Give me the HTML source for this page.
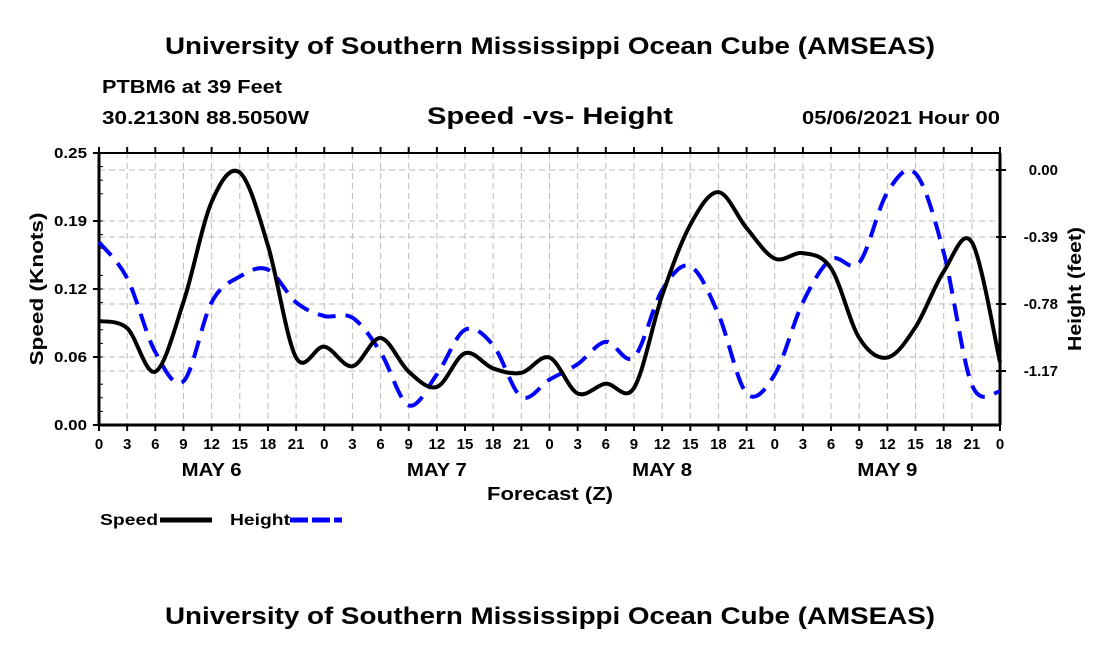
<!DOCTYPE html>
<html><head><meta charset="utf-8"><style>
body{margin:0;background:#fff}
svg text{font-family:"Liberation Sans",sans-serif;font-weight:bold;fill:#000}
</style></head><body>
<svg id="c" width="1100" height="650" xmlns="http://www.w3.org/2000/svg">
<text x="165" y="54" font-size="24" textLength="770" lengthAdjust="spacingAndGlyphs">University of Southern Mississippi Ocean Cube (AMSEAS)</text>
<text x="102" y="93" font-size="18" textLength="180" lengthAdjust="spacingAndGlyphs">PTBM6 at 39 Feet</text>
<text x="102" y="124" font-size="18" textLength="207" lengthAdjust="spacingAndGlyphs">30.2130N  88.5050W</text>
<text x="427" y="124" font-size="24" textLength="246" lengthAdjust="spacingAndGlyphs">Speed -vs- Height</text>
<text x="802" y="124" font-size="18" textLength="198" lengthAdjust="spacingAndGlyphs">05/06/2021 Hour 00</text>
<g id="grid"></g>
<g id="axes"></g>
<g id="series"></g>
<text x="487" y="500" font-size="18" textLength="126" lengthAdjust="spacingAndGlyphs">Forecast (Z)</text>
<text transform="translate(43,289) rotate(-90)" font-size="18" text-anchor="middle" textLength="153" lengthAdjust="spacingAndGlyphs">Speed (Knots)</text>
<text transform="translate(1081,289) rotate(-90)" font-size="18" text-anchor="middle" textLength="124" lengthAdjust="spacingAndGlyphs">Height (feet)</text>
<g>
<text x="100" y="525" font-size="16" textLength="58" lengthAdjust="spacingAndGlyphs">Speed</text>
<line x1="160" y1="520" x2="212" y2="520" stroke="#000" stroke-width="5"/>
<text x="230" y="525" font-size="16" textLength="60" lengthAdjust="spacingAndGlyphs">Height</text>
<line x1="290" y1="520" x2="342" y2="520" stroke="#0000ff" stroke-width="5" stroke-dasharray="18,4"/>
</g>
<text x="165" y="624" font-size="24" textLength="770" lengthAdjust="spacingAndGlyphs">University of Southern Mississippi Ocean Cube (AMSEAS)</text>
</svg>
<script>
const hours=[0,3,6,9,12,15,18,21,24,27,30,33,36,39,42,45,48,51,54,57,60,63,66,69,72,75,78,81,84,87,90,93,96];
const speed=[0.0956,0.089,0.049,0.113,0.205,0.232,0.165,0.062,0.072,0.054,0.080,0.049,0.035,0.066,0.052,0.048,0.062,0.029,0.038,0.034,0.119,0.184,0.214,0.181,0.153,0.158,0.144,0.080,0.062,0.090,0.141,0.168,0.058];
const height=[-0.42,-0.63,-1.06,-1.23,-0.77,-0.62,-0.58,-0.77,-0.85,-0.86,-1.06,-1.37,-1.19,-0.93,-1.02,-1.32,-1.22,-1.13,-1.00,-1.09,-0.70,-0.56,-0.84,-1.30,-1.19,-0.77,-0.52,-0.54,-0.13,-0.02,-0.48,-1.25,-1.29];
const leftTicks=[0,0.0625,0.125,0.1875,0.25];
const leftTickLabels=["0.00","0.06","0.12","0.19","0.25"];
const rightTicks=[0,-0.39,-0.78,-1.17];
const rightTickLabels=["0.00","-0.39","-0.78","-1.17"];
const xTickLabels=["0","3","6","9","12","15","18","21"];
const dayLabels=["MAY 6","MAY 7","MAY 8","MAY 9"];
const dayHours=[12,36,60,84];

const L=99,R=1000,T=153,B=425;
const X=h=>L+(h/96)*(R-L);
const YS=v=>B-(v/0.25)*(B-T);
const YH=v=>170+(v/-1.17)*(371-170);
const NS="http://www.w3.org/2000/svg";
function mk(tag,attrs,parent,txt){const e=document.createElementNS(NS,tag);for(const k in attrs)e.setAttribute(k,attrs[k]);if(txt!==undefined)e.textContent=txt;parent.appendChild(e);return e;}
const grid=document.getElementById('grid'),axes=document.getElementById('axes'),ser=document.getElementById('series');
hours.forEach((h,i)=>{if(i>0&&i<hours.length-1){const g=mk('line',{x1:X(h),x2:X(h),y1:T,y2:B,stroke:'#bbb','stroke-dasharray':'6,4'},grid);

}});
leftTicks.forEach((v,i)=>{const y=YS(v);if(i>0&&i<leftTicks.length-1){const g=mk('line',{x1:L,x2:R,y1:y,y2:y,stroke:'#bbb','stroke-dasharray':'6,4'},grid);

}
mk('line',{x1:L-6,x2:L,y1:y,y2:y,stroke:'#000','stroke-width':2},axes);
const t=mk('text',{x:L-12,y:y+5,'font-size':15,'text-anchor':'end',textLength:33,lengthAdjust:'spacingAndGlyphs'},axes,leftTickLabels[i]);

});
for(let k=0;k<=20;k++){const y=B-k*(B-T)/20;mk('line',{x1:L,x2:L+(k%4?4:0),y1:y,y2:y,stroke:'#000','stroke-width':1},axes);}
rightTicks.forEach((v,i)=>{const y=YH(v);const g=mk('line',{x1:L,x2:R,y1:y,y2:y,stroke:'#bbb','stroke-dasharray':'6,4'},grid);


mk('line',{x1:R-4,x2:R+6,y1:y,y2:y,stroke:'#000','stroke-width':2},axes);
const t=mk('text',{x:1058,y:y+5,'font-size':15,'text-anchor':'end'},axes,rightTickLabels[i]);

});
mk('line',{x1:L,x2:R,y1:T,y2:T,stroke:'#000','stroke-width':2},axes);
mk('line',{x1:L,x2:R,y1:B,y2:B,stroke:'#000','stroke-width':3},axes);
mk('line',{x1:L,x2:L,y1:T,y2:B,stroke:'#000','stroke-width':3},axes);
mk('line',{x1:R,x2:R,y1:T,y2:B,stroke:'#000','stroke-width':3},axes);
hours.forEach((h,i)=>{const x=X(h);mk('line',{x1:x,x2:x,y1:B,y2:B+6,stroke:'#000','stroke-width':2},axes);
mk('line',{x1:x,x2:x,y1:T-6,y2:T,stroke:'#000','stroke-width':2},axes);
const t=mk('text',{x:x,y:B+24,'font-size':15,'text-anchor':'middle'},axes,xTickLabels[i%8]);

});
dayLabels.forEach((d,i)=>{const t=mk('text',{x:X(dayHours[i])-30,y:B+51,'font-size':18,textLength:60,lengthAdjust:'spacingAndGlyphs'},axes,d);

});
function path(ys){const p=hours.map((h,i)=>[X(h),ys[i]]);let d='M'+p[0][0]+','+p[0][1];
for(let i=0;i<p.length-1;i++){const p0=p[i-1]||p[i],p1=p[i],p2=p[i+1],p3=p[i+2]||p2;
d+=` C${p1[0]+(p2[0]-p0[0])/6},${p1[1]+(p2[1]-p0[1])/6} ${p2[0]-(p3[0]-p1[0])/6},${p2[1]-(p3[1]-p1[1])/6} ${p2[0]},${p2[1]}`;}return d;}
const hp=mk('path',{d:path(height.map(YH)),fill:'none',stroke:'#0000ff','stroke-width':4,'stroke-dasharray':'18,10'},ser);


const sp=mk('path',{d:path(speed.map(YS)),fill:'none',stroke:'#000','stroke-width':4},ser);


</script>
</body></html>
